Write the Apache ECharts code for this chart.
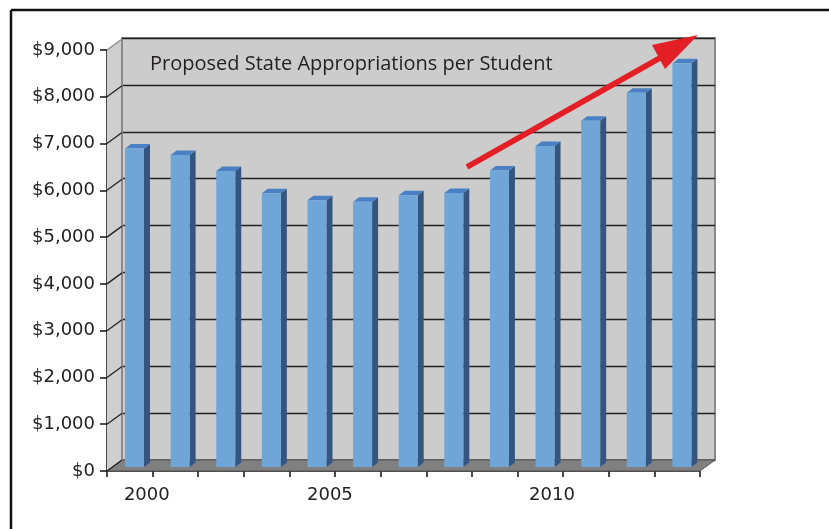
<!DOCTYPE html>
<html>
<head>
<meta charset="utf-8">
<script src="https://cdn.jsdelivr.net/npm/echarts@6/dist/echarts.min.js"></script>
<style>
  html, body { margin: 0; padding: 0; background: #fff; }
  #chart { width: 829px; height: 529px; }
</style>
</head>
<body>
<div id="chart"></div>
<script>
// data
const years = ['2000', '2001', '2002', '2003', '2004', '2005', '2006',
  '2007', '2008', '2009', '2010', '2011', '2012'];
const perStudent = [6810, 6670, 6330, 5850, 5700, 5670, 5810,
  5860, 6340, 6860, 7400, 8000, 8630];
const yTicks = [0, 1000, 2000, 3000, 4000, 5000, 6000, 7000, 8000, 9000];
const shownYears = ['2000', '2005', '2010'];
const chartTitle = 'Proposed State Appropriations per Student';

const chart = echarts.init(document.getElementById('chart'));

// depth of the fake 3d box
const DX = 15, DY = -11;
// bars sit a bit behind the front edge
const BX = 4.7, BY = -4, BW = 19, BDX = 6, BDY = -4.5;

const frontCol = '#70a5d8';
const sideCol = '#345580';
const topCol = '#4a80c4';

function renderWalls(params, api) {
  const cs = params.coordSys;
  const y = api.coord([0, api.value(0)])[1];
  const lineCol = api.value(0) === 9000 ? '#8a8a8a' : '#222';
  const children = [];
  if (params.dataIndex === 0) {
    const base = cs.y + cs.height;
    const top = cs.y;
    // left side wall
    children.push({
      type: 'polygon',
      shape: { points: [[cs.x, base], [cs.x + DX, base + DY], [cs.x + DX, top + DY], [cs.x, top]] },
      style: { fill: '#cfcfcf' },
      z2: 0
    });
    // floor
    children.push({
      type: 'polygon',
      shape: { points: [[cs.x, base], [cs.x + cs.width, base], [cs.x + cs.width + DX, base + DY], [cs.x + DX, base + DY]] },
      style: { fill: '#808080', stroke: '#555', lineWidth: 1 },
      z2: 1
    });
    // back wall left edge
    children.push({
      type: 'line',
      shape: { x1: cs.x + DX, y1: top + DY, x2: cs.x + DX, y2: base + DY },
      style: { stroke: '#8a8a8a', lineWidth: 2 },
      z2: 2
    });
  }
  children.push({
    type: 'line',
    shape: { x1: cs.x, y1: y, x2: cs.x + DX, y2: y + DY },
    style: { stroke: lineCol, lineWidth: 1.3 },
    z2: 3
  });
  return { type: 'group', children: children };
}

function renderBar(params, api) {
  const i = api.value(0);
  const top = api.coord([i, api.value(1)]);
  const bot = api.coord([i, 0]);
  const x0 = top[0] + BX - BW / 2;
  const x1 = x0 + BW;
  const yt = top[1] + BY;
  const yb = bot[1] + BY;
  return {
    type: 'group',
    children: [
      {
        type: 'polygon',
        shape: { points: [[x1, yb], [x1 + BDX, yb + BDY], [x1 + BDX, yt + BDY], [x1, yt]] },
        style: { fill: sideCol }
      },
      {
        type: 'polygon',
        shape: { points: [[x0, yt], [x1, yt], [x1 + BDX, yt + BDY], [x0 + BDX, yt + BDY]] },
        style: { fill: topCol }
      },
      {
        type: 'rect',
        shape: { x: x0, y: yt, width: BW, height: yb - yt },
        style: { fill: frontCol }
      }
    ]
  };
}

const labelShift = { '2000': [0, 0, 0, 34], '2005': [0, 56, 0, 0], '2010': [0, 68, 0, 0] };

const option = {
  animation: false,
  backgroundColor: '#fff',
  grid: [
    { left: 107, right: 129, top: 50, bottom: 58 },
    { left: 122, right: 114, top: 38, bottom: 69, show: true,
      backgroundColor: '#cccccc', borderColor: '#8a8a8a', borderWidth: 2 }
  ],
  xAxis: [
    {
      type: 'category',
      gridIndex: 0,
      data: years,
      axisLine: { lineStyle: { color: '#111', width: 1.5 } },
      axisTick: { show: true, length: 6, lineStyle: { color: '#111', width: 1.5 } },
      axisLabel: {
        interval: 0,
        margin: 15,
        formatter: function (v) {
          if (shownYears.indexOf(v) < 0) return '';
          return '{y' + v + '|' + v + '}';
        },
        rich: {
          y2000: { fontFamily: 'DejaVu Sans', fontSize: 18, color: '#222', padding: labelShift['2000'] },
          y2005: { fontFamily: 'DejaVu Sans', fontSize: 18, color: '#222', padding: labelShift['2005'] },
          y2010: { fontFamily: 'DejaVu Sans', fontSize: 18, color: '#222', padding: labelShift['2010'] }
        }
      }
    },
    { type: 'category', gridIndex: 1, data: years, show: false }
  ],
  yAxis: [
    {
      type: 'value',
      gridIndex: 0,
      min: 0,
      max: 9000,
      interval: 1000,
      axisLine: { show: true, lineStyle: { color: '#111', width: 1.5 } },
      axisTick: { show: true, length: 7, lineStyle: { color: '#111', width: 1.5 } },
      splitLine: { show: false },
      axisLabel: {
        margin: 12,
        fontFamily: 'DejaVu Sans',
        fontSize: 18,
        color: '#222',
        formatter: function (v) { return '$' + v.toLocaleString('en-US'); }
      }
    },
    {
      type: 'value',
      gridIndex: 1,
      min: 0,
      max: 9000,
      interval: 1000,
      axisLabel: { show: false },
      axisLine: { show: false },
      axisTick: { show: false },
      splitLine: { show: true, lineStyle: { color: '#222', width: 1.3 } }
    }
  ],
  series: [
    {
      name: 'walls',
      type: 'custom',
      xAxisIndex: 0,
      yAxisIndex: 0,
      clip: false,
      silent: true,
      z: 1,
      renderItem: renderWalls,
      data: yTicks.map(function (v) { return [v]; })
    },
    {
      name: chartTitle,
      type: 'custom',
      xAxisIndex: 0,
      yAxisIndex: 0,
      clip: false,
      z: 3,
      renderItem: renderBar,
      encode: { x: 0, y: 1 },
      data: perStudent.map(function (v, i) { return [i, v]; })
    }
  ],
  graphic: [
    // outer frame (cut off on right and bottom)
    { type: 'line', shape: { x1: 11, y1: 10, x2: 829, y2: 10 }, style: { stroke: '#111', lineWidth: 2.5 } },
    { type: 'line', shape: { x1: 11, y1: 10, x2: 11, y2: 529 }, style: { stroke: '#111', lineWidth: 2.5 } },
    {
      type: 'text', left: 150, top: 54, z: 10,
      style: { text: chartTitle, fontFamily: 'Open Sans', fontSize: 20, fill: '#231f20' }
    },
    // trend arrow
    {
      type: 'line', z: 20,
      shape: { x1: 467, y1: 167, x2: 667, y2: 54 },
      style: { stroke: '#e31e24', lineWidth: 5.5 }
    },
    {
      type: 'polygon', z: 20,
      shape: { points: [[698, 35], [652, 45], [665, 69]] },
      style: { fill: '#e31e24' }
    }
  ]
};

chart.setOption(option);
</script>
</body>
</html>
